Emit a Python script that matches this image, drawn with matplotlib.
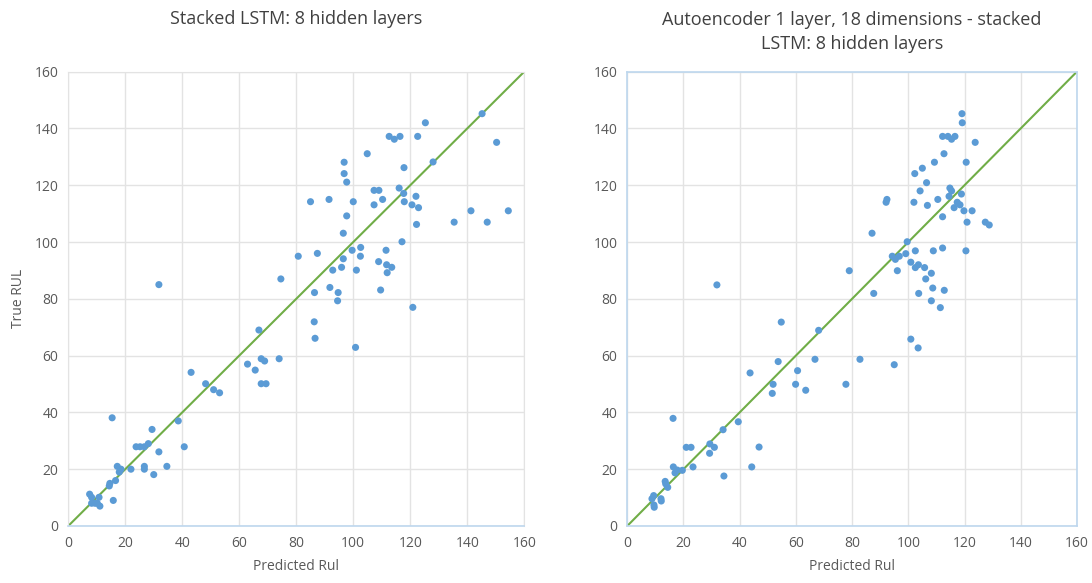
import matplotlib
matplotlib.use("Agg")
import matplotlib.pyplot as plt

plt.rcParams['font.family'] = ['Open Sans', 'DejaVu Sans']

# Stacked LSTM: predicted vs true RUL
lstm_pred = [31.8, 74.6, 80.7, 85.0, 87.4, 91.5, 92.8, 91.8, 94.7, 94.5, 86.4, 95.9,
             96.5, 96.5, 97.7, 96.8, 96.8, 97.7, 100.0, 99.6, 102.6, 102.5, 101.1,
             104.9, 107.3, 109.0, 107.3, 110.3, 108.9, 111.5, 111.7, 113.5, 111.9,
             109.6, 112.6, 114.4, 116.4, 117.8, 116.1, 117.7, 117.9, 117.1, 120.6,
             122.0, 122.9, 122.2, 122.6, 125.3, 128.0, 135.4, 141.3, 147.0, 145.2,
             150.3, 154.4, 86.3, 86.6, 100.8, 120.9,
             66.9, 62.9, 65.6, 67.7, 68.9, 74.0, 67.7, 69.4, 43.1, 48.2, 51.0, 53.1,
             15.4, 29.4, 38.6, 40.7, 31.8, 34.6, 30.0, 23.8, 25.2, 26.7, 28.1, 26.7,
             26.7, 22.0, 17.2, 18.5, 17.9, 16.6, 14.6, 14.4, 15.8, 7.5, 8.2, 10.8,
             8.2, 9.4, 10.2, 11.1]
lstm_true = [85.0, 87.0, 95.0, 114.2, 96.0, 115.0, 90.1, 84.0, 82.2, 79.3, 82.2, 91.1,
             94.1, 103.1, 109.2, 128.1, 124.1, 121.1, 114.2, 97.1, 98.1, 95.0, 90.1,
             131.1, 118.2, 118.2, 113.1, 115.0, 93.1, 97.1, 92.0, 91.1, 89.2,
             83.1, 137.2, 136.2, 137.2, 126.2, 119.0, 117.1, 114.2, 100.1, 113.1,
             116.1, 112.1, 106.2, 137.2, 142.0, 128.2, 107.0, 111.0, 107.0, 145.2,
             135.1, 111.0, 71.9, 66.1, 62.9, 77.0,
             69.0, 57.0, 54.9, 58.9, 58.1, 58.9, 50.1, 50.1, 54.1, 50.1, 48.0, 46.9,
             38.1, 34.0, 37.0, 27.9, 26.1, 21.0, 18.1, 27.9, 27.9, 27.9, 29.0, 21.0,
             20.0, 20.0, 21.0, 20.0, 19.0, 16.0, 15.0, 14.1, 9.0, 11.2, 10.1, 10.1,
             8.0, 8.0, 8.0, 7.0]

# Autoencoder (1 layer, 18 dims) + stacked LSTM: predicted vs true RUL
ae_pred = [31.9, 79.0, 87.7, 87.1, 92.1, 92.4, 94.3, 95.4, 96.8, 96.1, 99.1, 99.6,
           100.9, 102.5, 102.0, 102.3, 105.0, 104.2, 106.5, 106.8, 102.5, 103.6,
           105.8, 108.2, 106.2, 108.9, 108.7, 103.7, 112.8, 108.2, 109.3, 110.5,
           112.2, 112.2, 112.2, 114.1, 115.4, 116.6, 112.7, 114.8, 115.4, 114.5,
           118.9, 117.4, 118.4, 116.3, 119.8, 122.7, 120.9, 120.5, 120.6, 123.8,
           119.1, 119.2, 127.4, 128.8, 111.4, 100.9, 103.5, 82.8, 95.0, 77.8,
           54.8, 68.1, 66.8, 53.7, 43.7, 60.6, 51.9, 59.9, 63.5, 51.6,
           16.3, 34.1, 39.5, 46.9, 21.0, 22.7, 29.4, 31.0, 29.3, 44.3, 34.4, 23.4,
           19.6, 16.4, 17.8, 17.0, 13.5, 13.7, 14.4, 9.4, 8.8, 12.0, 12.1, 9.5, 9.6]
ae_true = [84.9, 89.9, 81.9, 103.1, 114.0, 115.0, 95.0, 93.9, 95.0, 89.9, 95.9, 100.1,
           92.9, 96.9, 114.0, 124.1, 126.0, 118.0, 120.9, 112.9, 91.0, 92.0,
           91.0, 89.0, 87.0, 96.9, 83.8, 81.9, 83.0, 79.3, 128.1, 115.0,
           108.9, 97.9, 137.2, 137.2, 136.2, 137.2, 131.1, 119.0, 118.0, 116.1,
           116.9, 114.0, 113.1, 112.1, 111.0, 111.0, 107.0, 96.9, 128.1, 135.1,
           145.2, 142.0, 107.0, 106.0, 76.9, 65.8, 62.7, 58.7, 56.8, 49.9,
           71.8, 68.9, 58.7, 57.9, 53.9, 54.7, 49.9, 49.9, 47.8, 46.7,
           37.9, 33.9, 36.7, 27.8, 27.7, 27.7, 28.9, 27.7, 25.6, 20.8, 17.6, 20.8,
           19.6, 20.8, 19.7, 18.7, 15.7, 14.8, 13.6, 10.7, 9.6, 9.6, 8.8, 7.4, 6.6]

ticks = [0, 20, 40, 60, 80, 100, 120, 140, 160]
diag = [0, 160]

blue = '#5B9BD5'
green = '#70AD47'
grid_c = '#E3E3E3'
frame_c = '#BDD7EE'
tick_c = '#595959'

fig = plt.figure(figsize=(10.92, 5.83), dpi=100)
ax1 = fig.add_axes([0.0625, 0.0978, 0.4176, 0.7793])
ax2 = fig.add_axes([0.5744, 0.0978, 0.4118, 0.7793])

panels = [
    (ax1, lstm_pred, lstm_true, 'Stacked LSTM: 8 hidden layers', 34),
    (ax2, ae_pred, ae_true, 'Autoencoder 1 layer, 18 dimensions - stacked\nLSTM: 8 hidden layers', 16),
]

for ax, xp, yt, title, tpad in panels:
    ax.plot(diag, diag, color=green, lw=1.5, zorder=2)
    ax.scatter(xp, yt, s=26, color=blue, edgecolors='none', zorder=3)
    ax.set_xlim(0, 160)
    ax.set_ylim(0, 160)
    ax.set_xticks(ticks)
    ax.set_yticks(ticks)
    ax.grid(True, color=grid_c, lw=1.0, zorder=0)
    ax.set_axisbelow(True)
    ax.tick_params(length=0, labelsize=10, colors=tick_c, pad=7)
    ax.set_xlabel('Predicted Rul', fontsize=10, color=tick_c, labelpad=6)
    ax.set_title(title, fontsize=13, color='#404040', pad=tpad, linespacing=1.45)

# left panel: grey frame with a pale blue baseline
for side in ['top', 'right', 'left']:
    ax1.spines[side].set_color(grid_c)
ax1.spines['bottom'].set_color(frame_c)
ax1.spines['bottom'].set_linewidth(1.2)
ax1.set_ylabel('True RUL', fontsize=10, color=tick_c, labelpad=6)

# right panel: pale blue frame all round
for side in ['top', 'right', 'left', 'bottom']:
    ax2.spines[side].set_color(frame_c)
    ax2.spines[side].set_linewidth(1.2)

fig.savefig('out.png', dpi=100, facecolor='white')
